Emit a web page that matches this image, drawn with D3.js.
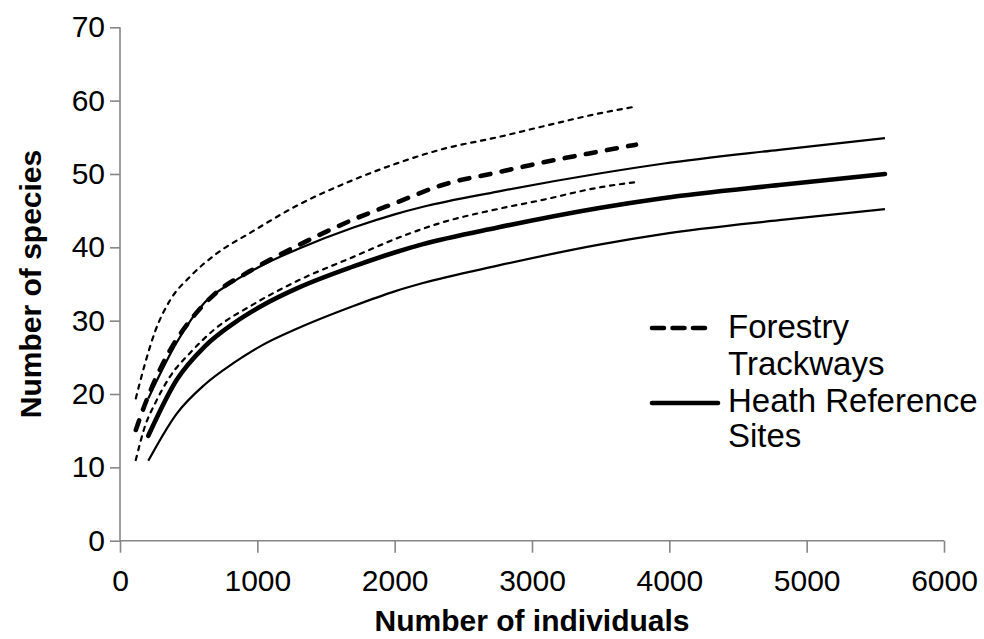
<!DOCTYPE html>
<html>
<head>
<meta charset="utf-8">
<script src="https://cdn.jsdelivr.net/npm/d3@7"></script>
<style>
  html, body { margin: 0; padding: 0; background: #fff; }
  svg { display: block; font-family: "Liberation Sans", Arial, sans-serif; }
</style>
</head>
<body>
<svg id="chart" width="984" height="639"></svg>
<script>
// Rarefaction curves: expected species vs. individuals sampled, with upper/lower bounds
const forestryX     = [115, 180, 255, 365, 510, 700, 950, 1300, 1700, 2040, 2330, 2770, 3060, 3500, 3757];
const forestryUpper = [19.4, 24.0, 28.5, 32.8, 36.0, 39.1, 42.0, 45.8, 49.2, 51.6, 53.3, 55.1, 56.4, 58.3, 59.2];
const forestryMean  = [15.1, 18.5, 21.9, 26.0, 30.0, 33.8, 36.8, 40.3, 43.8, 46.3, 48.4, 50.3, 51.5, 53.1, 54.0];
const forestryLower = [11.0, 15.5, 18.7, 22.4, 25.6, 29.0, 32.0, 35.5, 38.7, 41.4, 43.3, 45.3, 46.4, 48.2, 48.9];

const heathX     = [206, 412, 618, 825, 1030, 1300, 1700, 2000, 2200, 2750, 3500, 3950, 4800, 5570];
const heathUpper = [19.4, 27.0, 32.5, 35.3, 37.5, 39.8, 42.7, 44.5, 45.5, 47.6, 50.1, 51.4, 53.3, 54.9];
const heathMean  = [14.3, 21.9, 26.5, 29.6, 32.0, 34.5, 37.4, 39.3, 40.4, 42.7, 45.4, 46.7, 48.5, 50.0];
const heathLower = [10.9, 17.3, 21.3, 24.2, 26.6, 29.0, 32.0, 34.0, 35.1, 37.5, 40.4, 41.8, 43.7, 45.2];

const xTicks = [0, 1000, 2000, 3000, 4000, 5000, 6000];
const yTicks = [0, 10, 20, 30, 40, 50, 60, 70];

const legendLabels = [["Forestry", "Trackways"], ["Heath Reference", "Sites"]];

const svg = d3.select("#chart");
const axisColor = "#868686";

const x = d3.scaleLinear().domain([0, 6000]).range([120, 944]);
const y = d3.scaleLinear().domain([0, 70]).range([540.7, 27.3]);

// Axes
const xAxis = svg.append("g")
  .attr("transform", `translate(0,${y(0)})`)
  .call(d3.axisBottom(x).tickValues(xTicks).tickSize(12).tickPadding(17).tickFormat(d3.format("d")));
const yAxis = svg.append("g")
  .attr("transform", `translate(${x(0)},0)`)
  .call(d3.axisLeft(y).tickValues(yTicks).tickSize(10).tickPadding(5).tickFormat(d3.format("d")));

[xAxis, yAxis].forEach(g => {
  g.select(".domain").attr("stroke", axisColor).attr("stroke-width", 1.6);
  g.selectAll(".tick line").attr("stroke", axisColor).attr("stroke-width", 1.6);
  g.selectAll(".tick text")
    .attr("fill", "#000")
    .style("font-size", "30px")
    .style("font-family", "'Liberation Sans', Arial, sans-serif");
});
// plain axis lines without the outer end ticks
xAxis.select(".domain").attr("d", `M${x(0)},0H${x(6000)}`);
yAxis.select(".domain").attr("d", `M0,${y(0)}V${y(70)}`);
xAxis.selectAll(".tick text").attr("dy", "0.71em");

// Axis titles
svg.append("text")
  .attr("x", (x(0) + x(6000)) / 2)
  .attr("y", 631)
  .attr("text-anchor", "middle")
  .style("font-size", "30px")
  .style("font-weight", "bold")
  .text("Number of individuals");

svg.append("text")
  .attr("transform", `translate(41,${(y(0) + y(70)) / 2}) rotate(-90)`)
  .attr("text-anchor", "middle")
  .style("font-size", "30px")
  .style("font-weight", "bold")
  .text("Number of species");

// Curves
const styles = {
  thinDash:  { width: 2.2, dash: "4.3,5.7", cap: "round" },
  thickDash: { width: 4.6, dash: "10,11.5", cap: "round" },
  thinSolid: { width: 2.2, dash: null, cap: "butt" },
  thickSolid:{ width: 4.6, dash: null, cap: "round" }
};

const series = [
  { xs: heathX, ys: heathLower, style: "thinSolid" },
  { xs: heathX, ys: heathUpper, style: "thinSolid" },
  { xs: heathX, ys: heathMean, style: "thickSolid" },
  { xs: forestryX, ys: forestryLower, style: "thinDash" },
  { xs: forestryX, ys: forestryUpper, style: "thinDash" },
  { xs: forestryX, ys: forestryMean, style: "thickDash" }
];

const line = d3.line()
  .x(d => x(d[0]))
  .y(d => y(d[1]))
  .curve(d3.curveMonotoneX);

series.forEach(s => {
  const st = styles[s.style];
  svg.append("path")
    .datum(d3.zip(s.xs, s.ys))
    .attr("d", line)
    .attr("fill", "none")
    .attr("stroke", "#000")
    .attr("stroke-width", st.width)
    .attr("stroke-linecap", st.cap)
    .attr("stroke-linejoin", "round")
    .attr("stroke-dasharray", st.dash);
});

// Legend
const legend = svg.append("g");
legend.append("line")
  .attr("x1", 652).attr("x2", 710).attr("y1", 328).attr("y2", 328)
  .attr("stroke", "#000").attr("stroke-width", 4.6)
  .attr("stroke-linecap", "round").attr("stroke-dasharray", "12,8.5");
legend.append("line")
  .attr("x1", 652).attr("x2", 718).attr("y1", 403).attr("y2", 403)
  .attr("stroke", "#000").attr("stroke-width", 4.6)
  .attr("stroke-linecap", "round");

const baselines = [[338.3, 375], [411.7, 446.7]];
legendLabels.forEach((lines, i) => {
  lines.forEach((t, j) => {
    legend.append("text")
      .attr("x", 728)
      .attr("y", baselines[i][j])
      .style("font-size", "33px")
      .text(t);
  });
});
</script>
</body>
</html>
